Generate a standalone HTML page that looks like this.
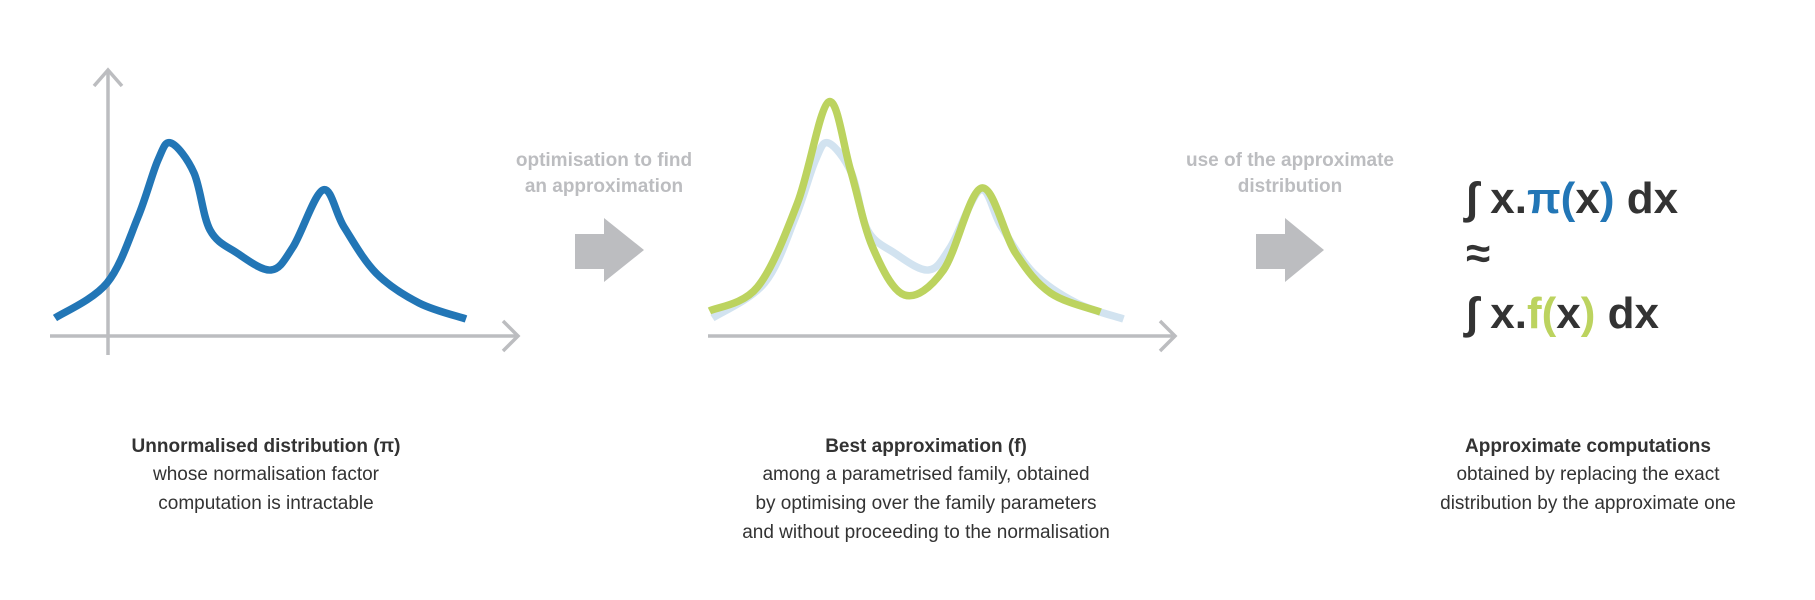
<!DOCTYPE html>
<html><head><meta charset="utf-8"><style>
html,body{margin:0;padding:0;background:#fff;}
svg{display:block;font-family:"Liberation Sans",sans-serif;}
</style></head><body>
<svg id="root" width="1815" height="600" viewBox="0 0 1815 600">
<g>
  <g stroke="#bcbdc0" stroke-width="3.5" fill="none">
    <line x1="108" y1="70" x2="108" y2="355"/>
    <polyline points="94,86 108,70 122,86"/>
    <line x1="50" y1="336" x2="518" y2="336"/>
    <polyline points="503,321 518,336 503,351"/>
  </g>
  <path id="piCurve" fill="none" stroke="#2276b6" stroke-width="7.5" stroke-linejoin="round"/>
</g>
<g>
  <text x="604" y="166" text-anchor="middle" font-size="19" font-weight="bold" fill="#bcbdc0">optimisation to find</text>
  <text x="604" y="192" text-anchor="middle" font-size="19" font-weight="bold" fill="#bcbdc0">an approximation</text>
  <polygon points="575,234 604,234 604,218 644,250 604,282 604,269 575,269" fill="#bcbdc0"/>
</g>
<g>
  <g stroke="#bcbdc0" stroke-width="3.5" fill="none">
    <line x1="708" y1="336" x2="1175" y2="336"/>
    <polyline points="1160,321 1175,336 1160,351"/>
  </g>
  <path id="piGhost" fill="none" stroke="#d2e3f0" stroke-width="7.5" stroke-linejoin="round"/>
  <path id="fCurve" fill="none" stroke="#bcd35f" stroke-width="7.5" stroke-linejoin="round"/>
</g>
<g>
  <text x="1290" y="166" text-anchor="middle" font-size="19" font-weight="bold" fill="#bcbdc0">use of the approximate</text>
  <text x="1290" y="192" text-anchor="middle" font-size="19" font-weight="bold" fill="#bcbdc0">distribution</text>
  <polygon points="1256,234 1285,234 1285,218 1324,250 1285,282 1285,269 1256,269" fill="#bcbdc0"/>
</g>
<g font-size="44" font-weight="bold" fill="#333">
  <text x="1466" y="213">∫ x.<tspan fill="#2276b6">π(</tspan>x<tspan fill="#2276b6">)</tspan> dx</text>
  <text x="1466" y="268">≈</text>
  <text x="1466" y="328">∫ x.<tspan fill="#bcd35f">f(</tspan>x<tspan fill="#bcd35f">)</tspan> dx</text>
</g>
<g font-size="19" fill="#333" text-anchor="middle">
  <text x="266" y="452" font-weight="bold">Unnormalised distribution (π)</text>
  <text x="266" y="480">whose normalisation factor</text>
  <text x="266" y="509">computation is intractable</text>
  <text x="926" y="452" font-weight="bold">Best approximation (f)</text>
  <text x="926" y="480">among a parametrised family, obtained</text>
  <text x="926" y="509">by optimising over the family parameters</text>
  <text x="926" y="538">and without proceeding to the normalisation</text>
  <text x="1588" y="452" font-weight="bold">Approximate computations</text>
  <text x="1588" y="480">obtained by replacing the exact</text>
  <text x="1588" y="509">distribution by the approximate one</text>
</g>
</svg>
<script>
const piX = [-5.3, -0.1, 3.0, 5.0, 6.3, 8.6, 10.2, 12.9, 16.3, 18.5, 21.5, 23.6, 26.8, 31.1, 35.8];
const piY = [1.8, 5.3, 11.9, 17.6, 19.3, 16.3, 10.6, 8.3, 6.6, 8.9, 14.6, 10.9, 6.3, 3.3, 1.7];
const fX = [-5.6, -0.8, 3.2, 6.3, 8.5, 10.7, 13.9, 17.8, 21.6, 25.0, 28.5, 33.5];
const fY = [2.5, 4.9, 13.3, 23.4, 16.6, 8.9, 4.1, 6.6, 14.8, 8.3, 4.3, 2.4];

function sx1(v){return 108 + v*10;}
function sx2(v){return 765.5 + v*10;}
function sy(v){return 336 - v*10;}

function smooth(pts){
  let d = 'M' + pts[0][0].toFixed(1) + ',' + pts[0][1].toFixed(1);
  for (let i=0;i<pts.length-1;i++){
    const p0=pts[Math.max(0,i-1)], p1=pts[i], p2=pts[i+1], p3=pts[Math.min(pts.length-1,i+2)];
    const c1=[p1[0]+(p2[0]-p0[0])/6, p1[1]+(p2[1]-p0[1])/6];
    const c2=[p2[0]-(p3[0]-p1[0])/6, p2[1]-(p3[1]-p1[1])/6];
    d += ' C'+c1[0].toFixed(1)+','+c1[1].toFixed(1)+' '+c2[0].toFixed(1)+','+c2[1].toFixed(1)+' '+p2[0].toFixed(1)+','+p2[1].toFixed(1);
  }
  return d;
}
document.getElementById('piCurve').setAttribute('d', smooth(piX.map((x,i)=>[sx1(x), sy(piY[i])])));
document.getElementById('piGhost').setAttribute('d', smooth(piX.map((x,i)=>[sx2(x), sy(piY[i])])));
document.getElementById('fCurve').setAttribute('d', smooth(fX.map((x,i)=>[sx2(x), sy(fY[i])])));
</script>
</body></html>
